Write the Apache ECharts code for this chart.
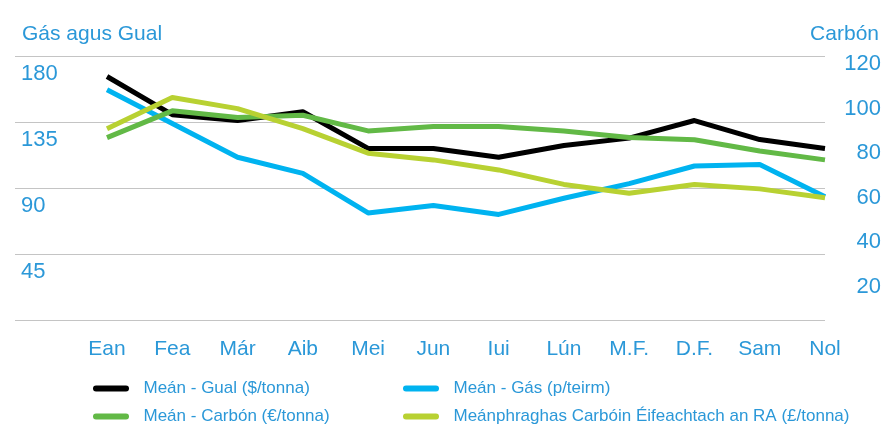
<!DOCTYPE html>
<html>
<head>
<meta charset="utf-8">
<script src="https://cdn.jsdelivr.net/npm/echarts@6/dist/echarts.min.js"></script>
<style>
  html, body { margin: 0; padding: 0; background: #fff; }
  #chart { width: 887px; height: 425px; }
</style>
</head>
<body>
<div id="chart"></div>
<script>
// míonna
const months = ["Ean", "Fea", "Már", "Aib", "Mei", "Jun", "Iui", "Lún", "M.F.", "D.F.", "Sam", "Nol"];

// ais chlé: gás agus gual
const coal = [166, 140, 136, 142, 117, 117, 111, 119, 124, 136, 123, 117];
const gas = [157, 134, 111, 100, 73, 78, 72, 83, 93, 105, 106, 84];

// ais dheas: carbón
const carbon = [87, 99, 96, 97, 90, 92, 92, 90, 87, 86, 81, 77];
const ukCarbon = [91, 105, 100, 91, 80, 77, 72.5, 66, 62, 66, 64, 60];

const names = [
  "Meán - Gual ($/tonna)",
  "Meán - Gás (p/teirm)",
  "Meán - Carbón (€/tonna)",
  "Meánphraghas Carbóin Éifeachtach an RA (£/tonna)"
];

const blue = "#2b98d8";
const font = "Liberation Sans";
const capsule = "path://M3,0 L33,0 A3,3 0 0 1 33,6 L3,6 A3,3 0 0 1 3,0 Z";

const chart = echarts.init(document.getElementById("chart"));

function legendAt(name, left, top) {
  return {
    data: [name],
    left: left,
    top: top,
    icon: capsule,
    itemWidth: 37,
    itemHeight: 6,
    selectedMode: false,
    textStyle: {
      color: blue,
      fontFamily: font,
      fontSize: 17,
      padding: [0, 0, 0, 9]
    }
  };
}

const option = {
  animation: false,
  title: [
    {
      text: "Gás agus Gual",
      left: 17,
      top: 19,
      textStyle: { color: blue, fontFamily: font, fontSize: 21, fontWeight: "normal" }
    },
    {
      text: "Carbón",
      right: 3,
      top: 19,
      textStyle: { color: blue, fontFamily: font, fontSize: 21, fontWeight: "normal" }
    }
  ],
  legend: [
    legendAt(names[0], 88, 375),
    legendAt(names[1], 398, 375),
    legendAt(names[2], 88, 403),
    legendAt(names[3], 398, 403)
  ],
  grid: [
    { left: 15, right: 62, top: 56, bottom: 105 },
    { left: 107, right: 62, top: 56, bottom: 105 },
    { left: 107, right: 62, top: 64, bottom: 93.4 }
  ],
  xAxis: [
    { gridIndex: 0, type: "value", show: false },
    {
      gridIndex: 1,
      type: "category",
      data: months,
      boundaryGap: false,
      axisLine: { show: false },
      axisTick: { show: false },
      axisLabel: { color: blue, fontFamily: font, fontSize: 21, margin: 19 }
    },
    { gridIndex: 2, type: "category", data: months, boundaryGap: false, show: false }
  ],
  yAxis: [
    {
      gridIndex: 0,
      type: "value",
      min: 0,
      max: 180,
      interval: 45,
      axisLine: { show: false },
      axisTick: { show: false },
      splitLine: { lineStyle: { color: "#c4c4c4", width: 1 } },
      axisLabel: {
        inside: true,
        margin: 6,
        showMinLabel: false,
        verticalAlign: "top",
        padding: [7, 0, 0, 0],
        color: blue,
        fontFamily: font,
        fontSize: 22
      }
    },
    { gridIndex: 1, type: "value", min: 0, max: 180, show: false },
    {
      gridIndex: 2,
      type: "value",
      position: "right",
      min: 0,
      max: 120,
      interval: 20,
      axisLine: { show: false },
      axisTick: { show: false },
      splitLine: { show: false },
      axisLabel: {
        showMinLabel: false,
        align: "right",
        margin: 56,
        color: blue,
        fontFamily: font,
        fontSize: 22
      }
    }
  ],
  series: [
    {
      name: names[1], type: "line", xAxisIndex: 1, yAxisIndex: 1, data: gas,
      color: "#00b3f0", symbol: "none", lineStyle: { width: 5, join: "round" }
    },
    {
      name: names[0], type: "line", xAxisIndex: 1, yAxisIndex: 1, data: coal,
      color: "#000000", symbol: "none", lineStyle: { width: 5, join: "round" }
    },
    {
      name: names[2], type: "line", xAxisIndex: 2, yAxisIndex: 2, data: carbon,
      color: "#62b946", symbol: "none", lineStyle: { width: 5, join: "round" }
    },
    {
      name: names[3], type: "line", xAxisIndex: 2, yAxisIndex: 2, data: ukCarbon,
      color: "#b8d132", symbol: "none", lineStyle: { width: 5, join: "round" }
    }
  ]
};

chart.setOption(option);
</script>
</body>
</html>
